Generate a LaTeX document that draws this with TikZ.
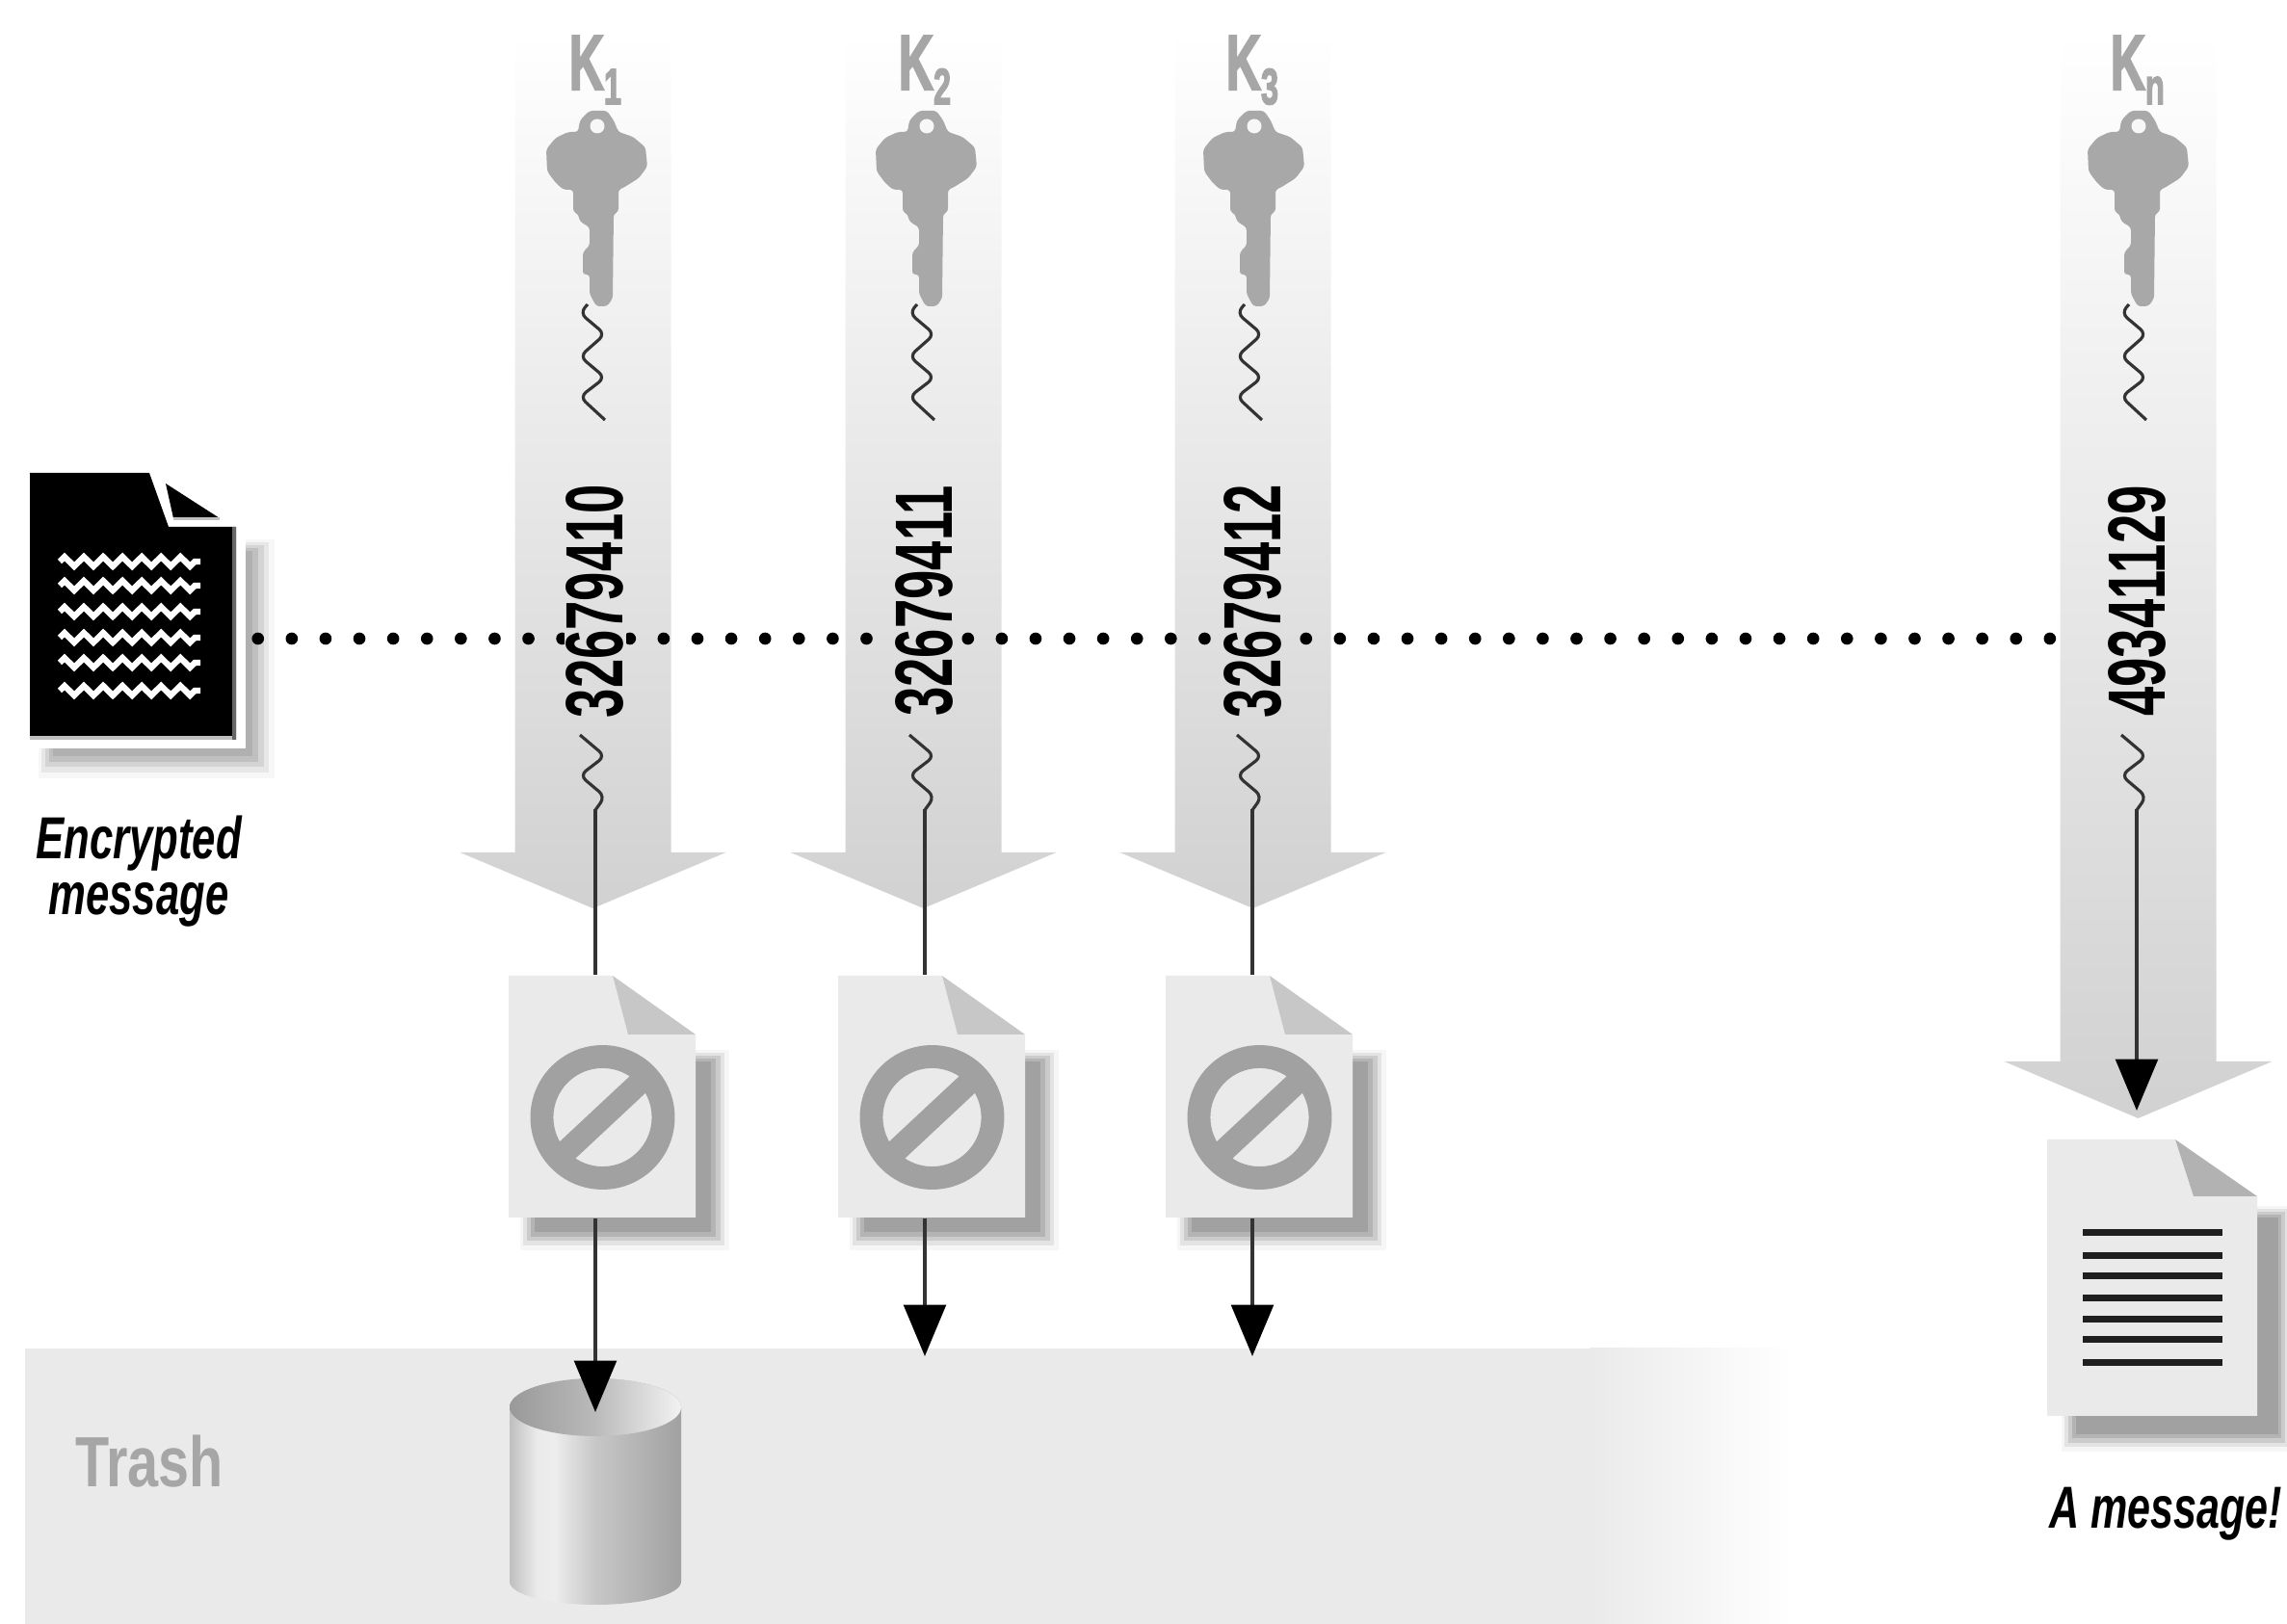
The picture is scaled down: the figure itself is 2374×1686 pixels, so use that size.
\documentclass[tikz,border=0pt]{standalone}
\usepackage{fontspec}
\usepackage{graphicx}
\setmainfont{Liberation Sans}
\newfontfamily\kfont[FakeBold=3]{Liberation Sans Bold}
\usetikzlibrary{arrows.meta,decorations.pathmorphing}
\definecolor{keygray}{HTML}{A8A8A8}
\definecolor{labelgray}{HTML}{A6A6A6}
\definecolor{sheetgray}{HTML}{EAEAEA}
\definecolor{wirecol}{HTML}{333333}
\definecolor{shadeA}{gray}{0.69}
\definecolor{shadeB}{gray}{0.63}
\pgfdeclarehorizontalshading{cylside}{100bp}{color(0bp)=(black!25); color(25bp)=(black!25); color(33bp)=(black!8); color(38bp)=(black!7); color(50bp)=(black!22); color(75bp)=(black!37); color(100bp)=(black!37)}
\pgfdeclarehorizontalshading{cyltop}{100bp}{color(0bp)=(black!40); color(25bp)=(black!40); color(50bp)=(black!27); color(75bp)=(black!5); color(100bp)=(black!5)}
\tikzset{
  x=0.01cm,y=-0.01cm,
  wire/.style={draw=wirecol,line width=1.15pt},
  wiggle/.style={draw=wirecol,line width=0.9pt,rounded corners=2.2pt},
  headed/.style={wire,-{Triangle[length=15.2pt,width=12.4pt,color=black]}},
  digits/.style={rotate=90,inner sep=0pt,font=\bfseries\fontsize{24}{24}\selectfont},
  keyname/.style={anchor=base west,inner sep=0pt,text=labelgray,font=\kfont\fontsize{23}{23}\selectfont},
  capt/.style={inner sep=0pt,align=center,font=\bfseries\itshape\fontsize{17.5}{16.5}\selectfont},
  docbox/.style={inner sep=0pt},
}
\newcommand{\shadowlayers}[7]{%
  \fill[#7!10!white] (#1,#2) rectangle (#5,#6);
  \fill[#7!30!white] (#1+3,#2+3) rectangle ({#3+(#5-#3)*.75},{#4+(#6-#4)*.75});
  \fill[#7!55!white] (#1+7,#2+6) rectangle ({#3+(#5-#3)*.5},{#4+(#6-#4)*.5});
  \fill[#7!80!white] (#1+11,#2+9) rectangle ({#3+(#5-#3)*.25},{#4+(#6-#4)*.25});
  \fill[#7] (#1+15,#2+12) rectangle (#3,#4);
}
\newcommand{\keyshape}{%
  \fill[keygray,rounded corners=0.9pt]
    (-18,137) -- (-16,125) -- (-6,115) -- (12,115) -- (19,125) -- (24,137) -- (39,142) -- (52,153) -- (54,173) -- (45,185) -- (29,195) -- (24,197)
    -- (24,220) -- (19,222) -- (18,310) -- (12,318) -- (1,318) -- (-6,305) -- (-6,285) -- (-13,285) -- (-13,262) -- (-6,255) -- (-6,236)
    -- (-16,230) -- (-18,222) -- (-23,220) -- (-23,197) -- (-33,197) -- (-41,190) -- (-50,178) -- (-51,155) -- (-41,143) -- (-28,137) -- cycle;
  \fill[white!97!black] (2,131) circle (7.5);
}
\begin{document}
\begin{tikzpicture}
\useasboundingbox (0,0) rectangle (2374,1686);
% trash area
\fill[sheetgray] (26,1400) rectangle (1652,1686);
\shade[left color=sheetgray,right color=white] (1650,1400) rectangle (1862,1686);
\node[inner sep=0pt,text=labelgray,font=\bfseries\fontsize{21}{21}\selectfont] (trash) at (155,1517) {\scalebox{.78}[1]{Trash}};
% key bands
\foreach \cx/\hw/\bw/\by/\ty in {615.5/81/138/885/943,958.5/81/138/885/943,1300.5/81/138/885/943,2219.5/81/139/1102/1161}{
  \shade[top color=white,bottom color=black!18]
    (\cx-\hw,33) -- (\cx+\hw,33) -- (\cx+\hw,\by) -- (\cx+\bw,\by) -- (\cx,\ty) -- (\cx-\bw,\by) -- (\cx-\hw,\by) -- cycle;
}
% encrypted document
\shadowlayers{40}{560}{262}{785}{285}{808}{shadeA}
\fill[white] (31,547) rectangle (255,777);
\node[docbox,minimum width=2.14cm,minimum height=2.77cm] (enc) at (138,629.5) {};
\fill[black] (31,491) -- (155,491) -- (175,547) -- (245,547) -- (245,768) -- (31,768) -- cycle;
\fill[black!60] (241,547) rectangle (245,768);
\fill[black!25] (31,764) rectangle (241,768);
\fill[black] (172,502) -- (228,538) -- (180,538) -- cycle;
\fill[black!25] (180,537) rectangle (228,540);
\foreach \wy in {583,608,635,662,688,717}{
  \draw[white,line width=1.8pt,decorate,decoration={zigzag,segment length=5.7pt,amplitude=1.4pt}] (62,\wy) -- (208,\wy);
}
% dotted line
\coordinate (dotend) at (2147,663);
\draw[black,line width=3.6pt,dash pattern=on 0pt off 9.98pt,line cap=round] (enc.east |- dotend) ++(22,0) -- (dotend);
% the numbers stand clear of the dots
\foreach \x in {618,960,1300}{
  \fill[black!12.5] (\x-32,651) rectangle (\x+32,675);
}
% keys, wiggles, numbers
\foreach \i/\x/\s/\num in {1/618/1/32679410,2/960/2/32679411,3/1300/3/32679412,4/2218/n/49341129}{
  \begin{scope}[shift={(\x,0)}]
    \keyshape
    \draw[wiggle] (-8,316) -- (-16,325) -- (10,347) -- (-16,370) -- (10,392) -- (-16,412) -- (10,436);
    \draw[wiggle] (-16,763) -- (10,785) -- (-16,805) -- (10,827) -- (0,841);
    \coordinate (w\i) at (0,840);
    \node[digits] (num\i) at (0,624) {\scalebox{.645}[1]{\num}};
    \node[keyname] (k\i) at (-28,93) {\scalebox{.62}[1]{K\raisebox{-4.3pt}{\fontsize{15}{15}\selectfont\s}}};
  \end{scope}
}
% rejected pages
\foreach \i/\l in {1/528,2/870,3/1210}{
  \begin{scope}[shift={(\l,0)}]
    \shadowlayers{12}{1090}{210}{1279}{229}{1298}{shadeB}
    \node[docbox,minimum width=1.94cm,minimum height=2.51cm] (d\i) at (97,1138.5) {};
    \fill[sheetgray] (0,1013) -- (108,1013) -- (124,1074) -- (194,1074) -- (194,1264) -- (0,1264) -- cycle;
    \fill[black!22] (108,1013) -- (194,1074) -- (124,1074) -- cycle;
    \draw[black!37,line width=6.8pt] (97.5,1160) circle (63);
    \draw[black!37,line width=6.8pt] (51.5,1203) -- (143.5,1117);
  \end{scope}
}
% final page
\shadowlayers{2140}{1252}{2365}{1489}{2378}{1507}{shadeB}
\node[docbox,minimum width=2.18cm,minimum height=2.87cm] (msg) at (2234,1326.5) {};
\fill[sheetgray] (2125,1183) -- (2258,1183) -- (2277,1242) -- (2343,1242) -- (2343,1470) -- (2125,1470) -- cycle;
\fill[black!30] (2258,1183) -- (2343,1242) -- (2277,1242) -- cycle;
\foreach \ly in {1279.6,1303.5,1325,1348,1370,1390.5,1414.6}{
  \fill[black!88] (2162,\ly-3.5) rectangle (2307,\ly+3.5);
}
% connectors
\coordinate (e1) at (618,1466);
\coordinate (e2) at (960,1408);
\coordinate (e3) at (1300,1408);
\coordinate (e4) at (2218,1153);
% cylinder
\shade[shading=cylside] (529,1461) -- (529,1642) arc[start angle=180,end angle=360,x radius=89,y radius=-24] -- (707,1461) arc[start angle=0,end angle=180,x radius=89,y radius=-30] -- cycle;
\shade[shading=cyltop] (618,1461) ellipse[x radius=89,y radius=30];
\foreach \i in {1,2,3}{
  \draw[wire] (w\i) -- (w\i |- d\i.north);
  \draw[headed] (w\i |- d\i.south) -- (e\i);
}
\draw[headed] (w4) -- (e4);
% captions
\node[capt] (lab1) at (144,905) {\scalebox{.71}[1]{Encrypted}\\[0pt]\scalebox{.71}[1]{message}};
\node[capt] (lab2) at (2248,1572) {\scalebox{.70}[1]{A message!}};
\end{tikzpicture}
\end{document}
